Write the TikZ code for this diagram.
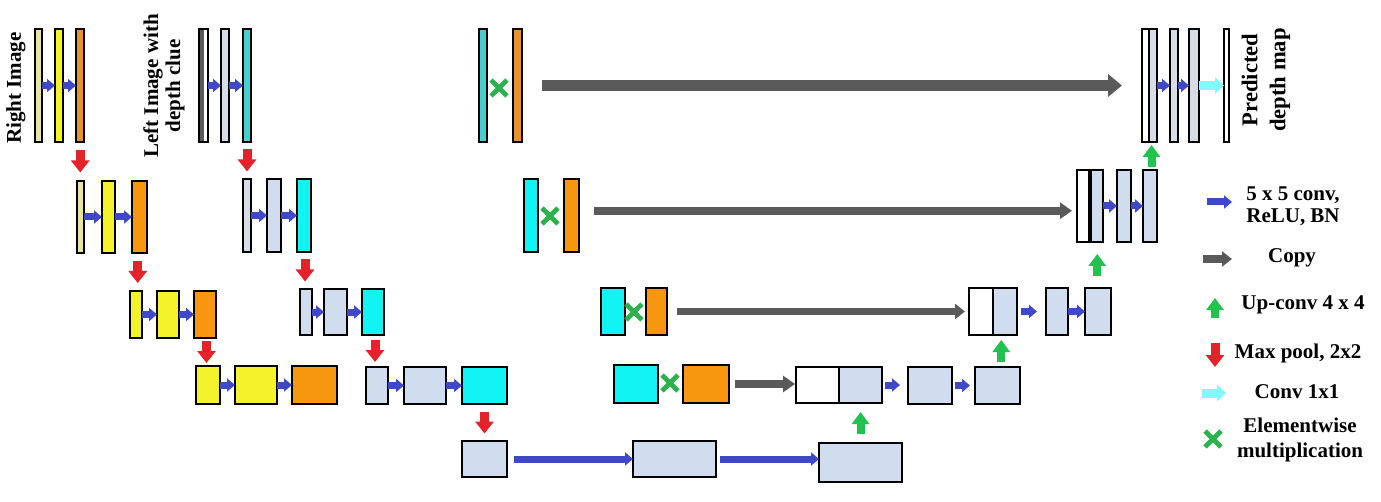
\documentclass[tikz,border=0pt]{standalone}
\usepackage{fontspec}
\setmainfont{Liberation Serif}
\usetikzlibrary{arrows.meta,fit,calc,shapes.misc}
\definecolor{paleY}{HTML}{E8E4A2}
\definecolor{yel}{HTML}{F4F22A}
\definecolor{orgT}{HTML}{E8922E}
\definecolor{org}{HTML}{F7960F}
\definecolor{cyT}{HTML}{45CFCF}
\definecolor{cy}{HTML}{12F4F4}
\definecolor{lb}{HTML}{CFDDEE}
\definecolor{lbg}{HTML}{D7DDE7}
\definecolor{dgray}{HTML}{5A5A5A}
\definecolor{ablue}{HTML}{3F48C8}
\definecolor{agray}{HTML}{5A5A5A}
\definecolor{ared}{HTML}{E3222A}
\definecolor{agreen}{HTML}{22C24E}
\definecolor{acyan}{HTML}{80FAFA}
\definecolor{xgreen}{HTML}{2BB24C}
\tikzset{
 box/.style={draw=black,line width=1.15pt,inner sep=0pt,outer sep=0pt},
 blu/.style={draw=ablue,line width=3.5pt,-{Triangle[length=4pt,width=6.5pt]}},
 redarr/.style={draw=ared,line width=4.5pt,-{Triangle[length=6pt,width=9pt]}},
 grnarr/.style={draw=agreen,line width=4pt,-{Triangle[length=6pt,width=8.5pt]}},
 cyarr/.style={draw=acyan,line width=4.5pt,-{Triangle[length=4.5pt,width=8pt]}},
 cpyA/.style={draw=agray,line width=5.5pt,-{Triangle[length=7pt,width=11pt]}},
 cpyB/.style={draw=agray,line width=4pt,-{Triangle[length=6pt,width=8pt]}},
 cpyC/.style={draw=agray,line width=3.5pt,-{Triangle[length=5pt,width=7.5pt]}},
 mul/.style={cross out,draw=xgreen,line width=2.4pt,minimum size=5.5pt,inner sep=0pt},
 lbl/.style={font=\bfseries\fontsize{10.5}{11}\selectfont,align=center,inner sep=0pt},
}
\newcommand\mybox[6]{\node[box,fill=#6,fit={(#2,#3)(#4,#5)}] (#1) {};}
\newcommand\pooldown[2]{\draw[redarr] ($(#1.south)!0.5!(#2.north)+(0,-11)$) -- ++(0,22);}
\newcommand\upconv[2]{\draw[grnarr] ($(#1.north)!0.5!(#2.south)+(0,11)$) -- ++(0,-22);}
\newcommand\hconv[3][0pt]{\draw[blu,shorten <=#1] (#2.east) -- (#2.east -| #3.west);}
\begin{document}
\begin{tikzpicture}[x=0.5pt,y=-0.5pt]
\path[use as bounding box] (0,0) rectangle (1381,502);

% ---------- encoder: right image ----------
\mybox{r11}{35}{29}{42}{142}{paleY}
\mybox{r12}{55}{29}{63}{142}{yel}
\mybox{r13}{76}{29}{84}{142}{orgT}
\hconv{r11}{r12}\hconv{r12}{r13}
\mybox{r21}{77}{181}{84}{253}{paleY}
\mybox{r22}{102}{181}{115}{253}{yel}
\mybox{r23}{132}{181}{147}{253}{org}
\hconv{r21}{r22}\hconv{r22}{r23}
\mybox{r31}{130}{291}{142}{338}{yel}
\mybox{r32}{157}{291}{179}{338}{yel}
\mybox{r33}{194}{291}{216}{338}{org}
\hconv{r31}{r32}\hconv{r32}{r33}
\mybox{r41}{196}{366}{220}{404}{yel}
\mybox{r42}{235}{366}{277}{404}{yel}
\mybox{r43}{292}{366}{337}{404}{org}
\hconv{r41}{r42}\hconv{r42}{r43}

% ---------- encoder: left image ----------
\mybox{l11}{199}{29}{208}{142}{white}
\fill[dgray] (200,30) rectangle (204,141);
\mybox{l12}{221}{29}{229}{142}{lbg}
\mybox{l13}{243}{29}{251}{142}{cyT}
\hconv{l11}{l12}\hconv{l12}{l13}
\mybox{l21}{243}{179}{251}{252}{lbg}
\mybox{l22}{267}{179}{281}{252}{lb}
\mybox{l23}{297}{179}{311}{252}{cy}
\hconv{l21}{l22}\hconv{l22}{l23}
\mybox{l31}{300}{289}{312}{335}{lb}
\mybox{l32}{324}{289}{347}{335}{lb}
\mybox{l33}{362}{289}{384}{335}{cy}
\hconv{l31}{l32}\hconv{l32}{l33}
\mybox{l41}{366}{367}{388}{404}{lb}
\mybox{l42}{404}{367}{446}{404}{lb}
\mybox{l43}{462}{367}{507}{404}{cy}
\hconv{l41}{l42}\hconv{l42}{l43}

% ---------- bottleneck ----------
\mybox{b1}{462}{441}{507}{477}{lb}
\mybox{b2}{633}{441}{716}{477}{lb}
\mybox{b3}{819}{443}{902}{482}{lb}
\hconv[3.5pt]{b1}{b2}\hconv[2pt]{b2}{b3}

% ---------- pooling ----------
\pooldown{r13}{r21}\pooldown{l13}{l21}
\pooldown{r23}{r31}\pooldown{l23}{l31}
\pooldown{r33}{r41}\pooldown{l33}{l41}
\pooldown{l43}{b1}

% ---------- elementwise products ----------
\mybox{m1c}{479}{29}{487}{142}{cyT}
\node[mul] (m1x) at (499,88) {};
\mybox{m1o}{513}{29}{522}{142}{orgT}
\mybox{m2c}{524}{179}{538}{252}{cy}
\node[mul] (m2x) at (550,216) {};
\mybox{m2o}{564}{179}{579}{252}{org}
\mybox{m3c}{601}{288}{625}{335}{cy}
\node[mul] (m3x) at (634,312) {};
\mybox{m3o}{646}{288}{667}{335}{org}
\mybox{m4c}{614}{365}{658}{403}{cy}
\node[mul] (m4x) at (670,383) {};
\mybox{m4o}{683}{365}{729}{403}{org}

% ---------- decoder ----------
\mybox{d4a}{796}{367}{839}{403}{white}
\mybox{d4b}{839}{367}{882}{403}{lb}
\mybox{d4c}{908}{367}{952}{404}{lb}
\mybox{d4d}{975}{367}{1020}{404}{lb}
\draw[blu,shorten <=1.5pt,shorten >=4pt] (d4b.east) -- (d4b.east -| d4c.west);
\draw[blu,shorten <=1.5pt,shorten >=2.5pt] (d4c.east) -- (d4c.east -| d4d.west);
\mybox{d3a}{969}{288}{993}{335}{white}
\mybox{d3b}{993}{288}{1017}{335}{lb}
\mybox{d3c}{1046}{288}{1068}{335}{lb}
\mybox{d3d}{1085}{288}{1111}{335}{lb}
\draw[blu,shorten <=2pt,shorten >=4.5pt] (d3b.east) -- (d3b.east -| d3c.west);
\hconv{d3c}{d3d}
\mybox{d2a}{1077}{170}{1090}{242}{white}
\mybox{d2b}{1090}{170}{1103}{242}{lb}
\draw[line width=2pt] (d2a.north east) -- (d2a.south east);
\mybox{d2c}{1117}{170}{1131}{242}{lb}
\mybox{d2d}{1143}{170}{1157}{242}{lb}
\hconv{d2b}{d2c}\hconv{d2c}{d2d}
\mybox{d1a}{1142}{29}{1149}{142}{white}
\mybox{d1b}{1149}{29}{1157}{142}{lbg}
\mybox{d1c}{1170}{29}{1178}{142}{lbg}
\mybox{d1d}{1189}{29}{1199}{142}{lbg}
\mybox{out}{1224}{29}{1229}{142}{white}
\hconv{d1b}{d1c}\hconv{d1c}{d1d}
\draw[cyarr] (d1d.east) -- (d1d.east -| out.west);

% ---------- up-convolutions ----------
\upconv{b3}{d4b}\upconv{d4d}{d3b}\upconv{d3d}{d2b}\upconv{d2d}{d1b}

% ---------- copies ----------
\draw[cpyA,shorten <=10pt,shorten >=10pt] (m1o.east) -- (m1o.east -| d1a.west);
\coordinate (c2) at ($(m2o.east)!0.5!(d2a.west)$);
\draw[cpyB,shorten <=7.5pt,shorten >=2.5pt] (c2 -| m2o.east) -- (c2 -| d2a.west);
\draw[cpyC,shorten <=5pt,shorten >=2pt] (m3o.east) -- (m3o.east -| d3a.west);
\draw[cpyB,shorten <=3pt,shorten >=0.5pt] (m4o.east) -- (m4o.east -| d4a.west);

% ---------- labels ----------
\node[lbl,rotate=90] (tr) at (16,88) {Right Image};
\node[lbl,rotate=90] (tl) at (164,86) {Left Image with\\depth clue};
\node[lbl,rotate=90,font=\bfseries\fontsize{11.3}{14}\selectfont] (tp) at (1266,80) {Predicted\\depth map};

% ---------- legend ----------
\coordinate (L1a) at (1207,202); \coordinate (L1b) at (1232,202);
\draw[blu] (L1a) -- (L1b);
\node[lbl] (t1) at (1293,206) {5 x 5 conv,\\ReLU, BN};
\coordinate (L2a) at (1203,259); \coordinate (L2b) at (1232,259);
\draw[cpyB,-{Triangle[length=5pt,width=7.5pt]}] (L2a) -- (L2b);
\node[lbl] (t2) at (1292,258) {Copy};
\coordinate (L3a) at (1215,318); \coordinate (L3b) at (1215,298);
\draw[grnarr] (L3a) -- (L3b);
\node[lbl] (t3) at (1303,305) {Up-conv 4 x 4};
\coordinate (L4a) at (1215,343); \coordinate (L4b) at (1215,367);
\draw[redarr] (L4a) -- (L4b);
\node[lbl] (t4) at (1298,353) {Max pool, 2x2};
\coordinate (L5a) at (1202,393); \coordinate (L5b) at (1226,393);
\draw[cyarr] (L5a) -- (L5b);
\node[lbl] (t5) at (1297,392) {Conv 1x1};
\node[mul] (L6) at (1213,439) {};
\node[lbl,font=\bfseries\fontsize{10.5}{12.5}\selectfont] (t6) at (1300,440) {Elementwise\\multiplication};
\end{tikzpicture}
\end{document}
